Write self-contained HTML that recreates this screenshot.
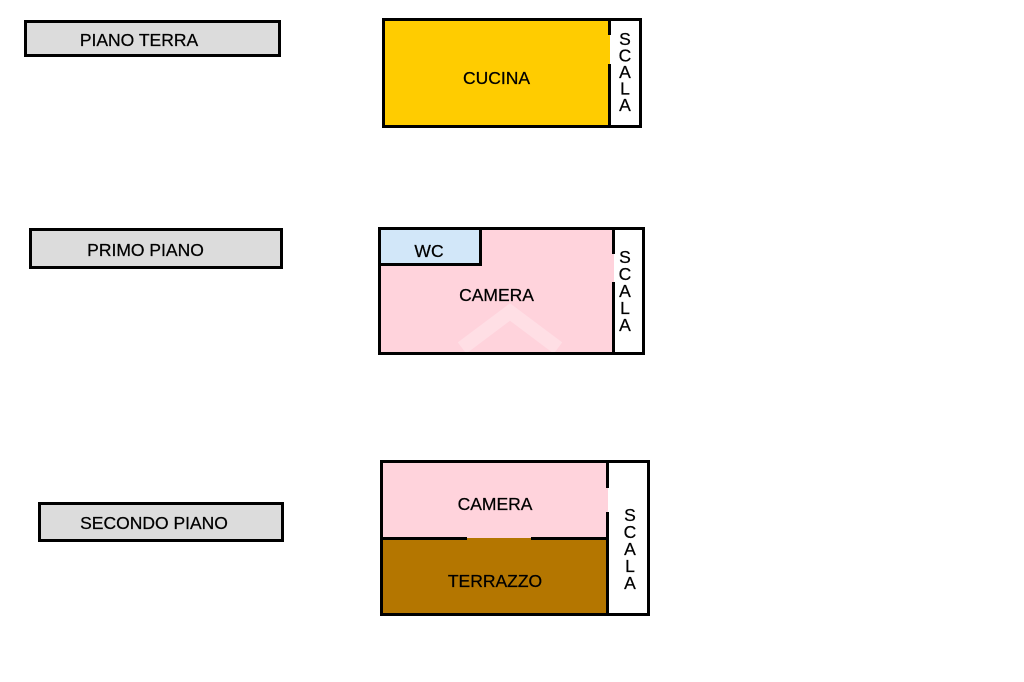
<!DOCTYPE html>
<html>
<head>
<meta charset="utf-8">
<style>
  html, body { margin: 0; padding: 0; background: #ffffff; }
  body { width: 1024px; height: 682px; overflow: hidden; }
  svg { display: block; }
  text { font-family: "Liberation Sans", Arial, sans-serif; font-size: 17.5px; fill: #000; stroke: #000; stroke-width: 0.25; }
</style>
</head>
<body>
<svg width="1024" height="682" viewBox="0 0 1024 682" xmlns="http://www.w3.org/2000/svg">
  <!-- Labels -->
  <rect x="25.5" y="21.5" width="254" height="34" fill="#dcdcdc" stroke="#000" stroke-width="3"/>
  <text x="139" y="46" text-anchor="middle">PIANO TERRA</text>

  <rect x="30.5" y="229.5" width="251" height="38" fill="#dcdcdc" stroke="#000" stroke-width="3"/>
  <text x="145.5" y="256" text-anchor="middle">PRIMO PIANO</text>

  <rect x="39.5" y="503.5" width="243" height="37" fill="#dcdcdc" stroke="#000" stroke-width="3"/>
  <text x="154" y="529" text-anchor="middle">SECONDO PIANO</text>

  <!-- Floor 0 -->
  <rect x="382" y="18" width="228" height="110" fill="#ffcc00"/>
  <rect x="383.5" y="19.5" width="257" height="107" fill="none" stroke="#000" stroke-width="3"/>
  <line x1="609.5" y1="19" x2="609.5" y2="35" stroke="#000" stroke-width="3"/>
  <line x1="609.5" y1="64" x2="609.5" y2="127" stroke="#000" stroke-width="3"/>
  <text x="496.5" y="84" text-anchor="middle">CUCINA</text>
  <text x="625" y="45" text-anchor="middle">S</text>
  <text x="625" y="61.5" text-anchor="middle">C</text>
  <text x="625" y="78" text-anchor="middle">A</text>
  <text x="625" y="94.5" text-anchor="middle">L</text>
  <text x="625" y="111" text-anchor="middle">A</text>

  <!-- Floor 1 -->
  <rect x="378" y="227" width="236" height="128" fill="#ffd3dc"/>
  <rect x="378" y="227" width="104" height="39" fill="#d2e7f9"/>
  <g opacity="0.28">
    <polyline points="462,348 510,312 558,348" fill="none" stroke="#ffffff" stroke-width="14"/>
  </g>
  <line x1="480.5" y1="228" x2="480.5" y2="266" stroke="#000" stroke-width="3"/>
  <line x1="379" y1="264.5" x2="482" y2="264.5" stroke="#000" stroke-width="3"/>
  <rect x="379.5" y="228.5" width="264" height="125" fill="none" stroke="#000" stroke-width="3"/>
  <line x1="613.5" y1="228" x2="613.5" y2="254" stroke="#000" stroke-width="3"/>
  <line x1="613.5" y1="282" x2="613.5" y2="354" stroke="#000" stroke-width="3"/>
  <text x="429" y="257" text-anchor="middle">WC</text>
  <text x="496.5" y="301" text-anchor="middle">CAMERA</text>
  <text x="625" y="263" text-anchor="middle">S</text>
  <text x="625" y="280" text-anchor="middle">C</text>
  <text x="625" y="297" text-anchor="middle">A</text>
  <text x="625" y="314" text-anchor="middle">L</text>
  <text x="625" y="331" text-anchor="middle">A</text>

  <!-- Floor 2 -->
  <rect x="380" y="460" width="228" height="78" fill="#ffd3dc"/>
  <rect x="380" y="538" width="228" height="78" fill="#b47600"/>
  <rect x="381.5" y="461.5" width="267" height="153" fill="none" stroke="#000" stroke-width="3"/>
  <line x1="607.5" y1="461" x2="607.5" y2="488" stroke="#000" stroke-width="3"/>
  <line x1="607.5" y1="512" x2="607.5" y2="615" stroke="#000" stroke-width="3"/>
  <line x1="381" y1="538.5" x2="467" y2="538.5" stroke="#000" stroke-width="3"/>
  <line x1="531" y1="538.5" x2="607" y2="538.5" stroke="#000" stroke-width="3"/>
  <text x="495" y="510" text-anchor="middle">CAMERA</text>
  <text x="495" y="587" text-anchor="middle">TERRAZZO</text>
  <text x="630" y="521" text-anchor="middle">S</text>
  <text x="630" y="538" text-anchor="middle">C</text>
  <text x="630" y="555" text-anchor="middle">A</text>
  <text x="630" y="572" text-anchor="middle">L</text>
  <text x="630" y="589" text-anchor="middle">A</text>
</svg>
</body>
</html>
